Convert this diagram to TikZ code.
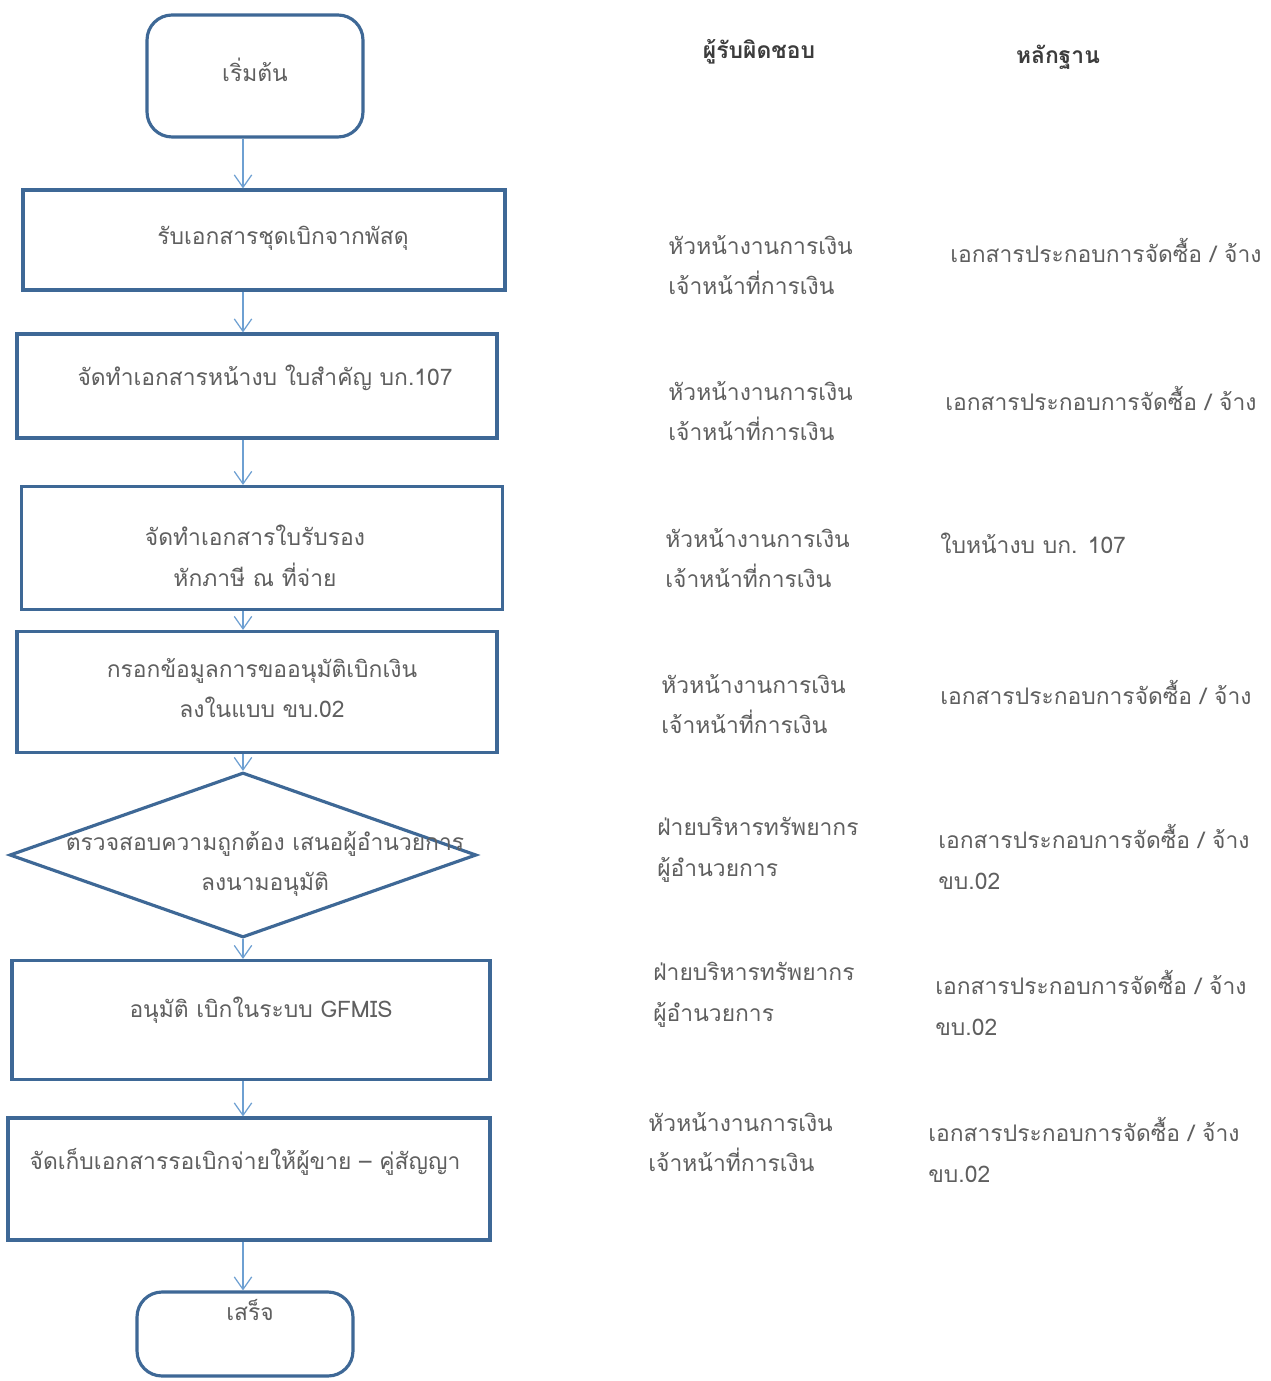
\documentclass[tikz,border=0pt]{standalone}
\usepackage{fontspec}
\newfontfamily\thaifont[Script=Thai]{Loma}
\usetikzlibrary{shapes.geometric,arrows.meta}
\definecolor{boxblue}{RGB}{62,104,150}
\definecolor{arrowblue}{RGB}{110,160,210}
\definecolor{txtgray}{RGB}{95,95,95}
\definecolor{headgray}{RGB}{60,60,60}

\begin{document}
\begin{tikzpicture}[x=0.02cm,y=-0.02cm,
  stepbox/.style={draw=boxblue,line width=1.8pt,rectangle,inner sep=0pt},
  endbox/.style={stepbox,rounded corners=0.5cm},
  checkbox/.style={draw=boxblue,line width=1.8pt,diamond,inner sep=0pt},
  txt/.style={font=\thaifont\fontsize{13}{23}\selectfont,text=txtgray,inner sep=0pt,align=center},
  col/.style={txt,anchor=west,align=left},
  head/.style={font=\thaifont\bfseries\fontsize{13}{23}\selectfont,text=headgray,inner sep=0pt},
  flow/.style={draw=arrowblue,line width=0.7pt,-{Straight Barb[length=2.5mm,width=3.5mm]}}]

\clip (0,0) rectangle (1270,1381);
\fill[white] (0,0) rectangle (1270,1381);

% flowchart shapes
\node[endbox,minimum width=4.32cm,minimum height=2.44cm] (start) at (255,76) {};
\node[stepbox,minimum width=9.64cm,minimum height=2.0cm] (b1) at (264,240) {};
\node[stepbox,minimum width=9.6cm,minimum height=2.08cm] (b2) at (257,386) {};
\node[stepbox,minimum width=9.62cm,minimum height=2.46cm] (b3) at (262,548) {};
\node[stepbox,minimum width=9.6cm,minimum height=2.42cm] (b4) at (257,692) {};
\node[checkbox,minimum width=9.34cm,minimum height=3.3cm] (chk) at (243,855) {};
\node[stepbox,minimum width=9.56cm,minimum height=2.38cm] (b5) at (251,1020) {};
\node[stepbox,minimum width=9.64cm,minimum height=2.44cm] (b6) at (249,1179) {};
\node[endbox,minimum width=4.32cm,minimum height=1.68cm] (stop) at (245,1334) {};

% texts inside the shapes
\node[txt] (t0) at (255,70) {เริ่มต้น};
\node[txt] (t1) at (283,238) {รับเอกสารชุดเบิกจากพัสดุ};
\node[txt] (t2) at (265,378) {จัดทำเอกสารหน้างบ ใบสำคัญ บก.107};
\node[txt] (t3) at (255,556) {จัดทำเอกสารใบรับรอง\\หักภาษี ณ ที่จ่าย};
\node[txt] (t4) at (262,688) {กรอกข้อมูลการขออนุมัติเบิกเงิน\\ลงในแบบ ขบ.02};
\node[txt] (t5) at (265,864) {ตรวจสอบความถูกต้อง เสนอผู้อำนวยการ\\ลงนามอนุมัติ};
\node[txt] (t6) at (261,1010) {อนุมัติ เบิกในระบบ GFMIS};
\node[txt] (t7) at (245,1162) {จัดเก็บเอกสารรอเบิกจ่ายให้ผู้ขาย – คู่สัญญา};
\node[txt] (t8) at (250,1310) {เสร็จ};

% connectors
\coordinate (ax) at (243,0);
\draw[flow] (start.south -| ax) -- (b1.north -| ax);
\draw[flow] (b1.south -| ax) -- (b2.north -| ax);
\draw[flow] (b2.south -| ax) -- (b3.north -| ax);
\draw[flow] (b3.south -| ax) -- (b4.north -| ax);
\draw[flow] (b4.south -| ax) -- (chk.north);
\draw[flow] (chk.south) -- (b5.north -| ax);
\draw[flow] (b5.south -| ax) -- (b6.north -| ax);
\draw[flow] (b6.south -| ax) -- (stop.north -| ax);

% column headings
\node[head] (hresp) at (759,52) {ผู้รับผิดชอบ};
\node[head] (hevid) at (1058,57) {หลักฐาน};

% responsible persons
\node[col] (r1) at (668,265) {หัวหน้างานการเงิน\\เจ้าหน้าที่การเงิน};
\node[col] (r2) at (668,411) {หัวหน้างานการเงิน\\เจ้าหน้าที่การเงิน};
\node[col] (r3) at (665,558) {หัวหน้างานการเงิน\\เจ้าหน้าที่การเงิน};
\node[col] (r4) at (661,704) {หัวหน้างานการเงิน\\เจ้าหน้าที่การเงิน};
\node[col] (r5) at (657,850) {ฝ่ายบริหารทรัพยากร\\ผู้อำนวยการ};
\node[col] (r6) at (653,995) {ฝ่ายบริหารทรัพยากร\\ผู้อำนวยการ};
\node[col] (r7) at (648,1142) {หัวหน้างานการเงิน\\เจ้าหน้าที่การเงิน};

% evidence
\node[col] (e1) at (950,250) {เอกสารประกอบการจัดซื้อ / จ้าง};
\node[col] (e2) at (945,398) {เอกสารประกอบการจัดซื้อ / จ้าง};
\node[col] (e3) at (940,543) {ใบหน้างบ บก. 107};
\node[col] (e4) at (940,692) {เอกสารประกอบการจัดซื้อ / จ้าง};
\node[col] (e5) at (938,857) {เอกสารประกอบการจัดซื้อ / จ้าง\\ขบ.02};
\node[col] (e6) at (935,1003) {เอกสารประกอบการจัดซื้อ / จ้าง\\ขบ.02};
\node[col] (e7) at (928,1150) {เอกสารประกอบการจัดซื้อ / จ้าง\\ขบ.02};
\end{tikzpicture}
\end{document}
